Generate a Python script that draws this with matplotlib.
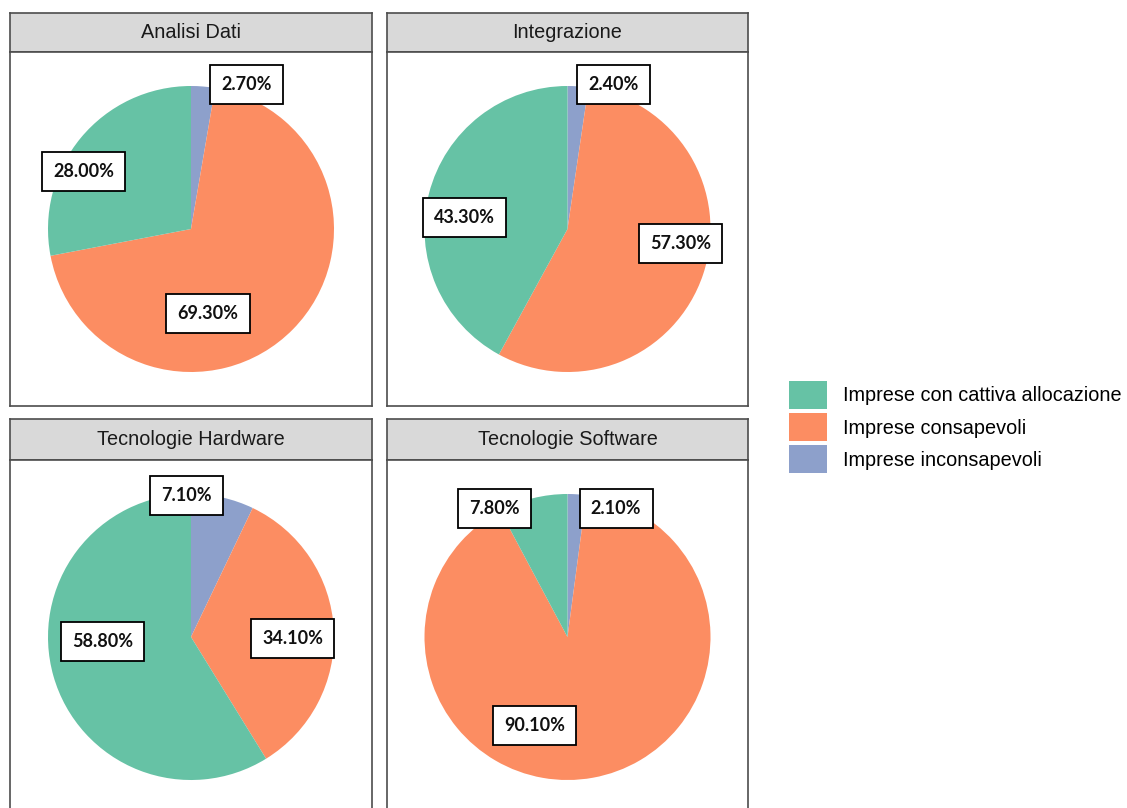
import matplotlib

matplotlib.use("Agg")
import matplotlib.pyplot as plt
from matplotlib.patches import Patch

# data (share of firms, %)
PANELS = ["Analisi Dati", "Integrazione", "Tecnologie Hardware", "Tecnologie Software"]
CATEGORIES = ["Imprese con cattiva allocazione", "Imprese consapevoli", "Imprese inconsapevoli"]
CATTIVA = [28.0, 43.3, 58.8, 7.8]
CONSAPEVOLI = [69.3, 57.3, 34.1, 90.1]
INCONSAPEVOLI = [2.7, 2.4, 7.1, 2.1]

COLORS = {"cattiva": "#66c2a5", "consapevoli": "#fc8d62", "inconsapevoli": "#8da0cb"}

# label anchor points (pie radius = 1), order: cattiva, consapevoli, inconsapevoli
LABEL_XY = [
    [(-0.75, 0.40), (0.12, -0.59), (0.39, 1.01)],
    [(-0.72, 0.08), (0.79, -0.10), (0.32, 1.01)],
    [(-0.62, -0.03), (0.71, -0.01), (-0.03, 0.99)],
    [(-0.51, 0.90), (-0.23, -0.62), (0.34, 0.90)],
]

W, H = 1127, 808
fig = plt.figure(figsize=(W / 100, H / 100), dpi=100)
fig.patch.set_facecolor("white")

# panel boxes in pixels: (left, right, strip_top, strip_bottom, panel_bottom)
BOXES = [
    (10, 372, 13, 52, 406),
    (387, 748, 13, 52, 406),
    (10, 372, 419, 460, 814),
    (387, 748, 419, 460, 814),
]
R_PX = 143
EDGE = "#4d4d4d"

for i, name in enumerate(PANELS):
    l, r, st, sb, pb = BOXES[i]
    # strip
    sax = fig.add_axes([l / W, 1 - sb / H, (r - l) / W, (sb - st) / H])
    sax.set_facecolor("#d9d9d9")
    sax.set_xticks([])
    sax.set_yticks([])
    for s in sax.spines.values():
        s.set_color(EDGE)
        s.set_linewidth(1.2)
    sax.text(0.5, 0.5, name, ha="center", va="center", fontsize=14.3,
             family="Liberation Sans", color="#1a1a1a", transform=sax.transAxes)

    ax = fig.add_axes([l / W, 1 - pb / H, (r - l) / W, (pb - sb) / H])
    vals = [INCONSAPEVOLI[i], CONSAPEVOLI[i], CATTIVA[i]]
    cols = [COLORS["inconsapevoli"], COLORS["consapevoli"], COLORS["cattiva"]]
    ax.pie(vals, colors=cols, startangle=90, counterclock=False, radius=1.0,
           wedgeprops=dict(linewidth=0))
    ax.set_aspect("auto")
    hx = (r - l) / 2 / R_PX
    hy = (pb - sb) / 2 / R_PX
    ax.set_xlim(-hx, hx)
    ax.set_ylim(-hy, hy)
    ax.set_frame_on(True)
    for s in ax.spines.values():
        s.set_color(EDGE)
        s.set_linewidth(1.2)
    ax.set_xticks([])
    ax.set_yticks([])

    texts = [CATTIVA[i], CONSAPEVOLI[i], INCONSAPEVOLI[i]]
    for v, (x, y) in zip(texts, LABEL_XY[i]):
        ax.text(x, y, f"{v:.2f}%", ha="center", va="center", fontsize=13,
                fontweight="bold", family="Lato", color="#111111",
                bbox=dict(boxstyle="square,pad=0.62", fc="white", ec="black", lw=1.3),
                zorder=5)

handles = [Patch(facecolor=COLORS[k], edgecolor="none") for k in ["cattiva", "consapevoli", "inconsapevoli"]]
fig.legend(handles, CATEGORIES, loc="upper left", bbox_to_anchor=(789 / W, 1 - 381 / H),
           frameon=False, borderpad=0, borderaxespad=0, handlelength=1.9, handleheight=1.8,
           handletextpad=0.8, labelspacing=0.2, prop=dict(family="Liberation Sans", size=14.3))

plt.savefig("out.png", dpi=100)
